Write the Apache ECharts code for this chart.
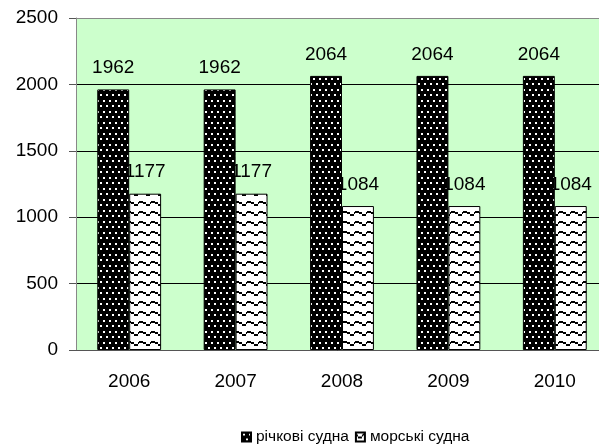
<!DOCTYPE html>
<html>
<head>
<meta charset="utf-8">
<script src="https://cdn.jsdelivr.net/npm/echarts@6/dist/echarts.min.js"></script>
<style>
  html, body { margin: 0; padding: 0; background: #fff; }
  #chart { width: 599px; height: 447px; }
</style>
</head>
<body>
<div id="chart"></div>
<script>
var years = ['2006', '2007', '2008', '2009', '2010'];
var riverShips = [1962, 1962, 2064, 2064, 2064];
var seaShips = [1177, 1177, 1084, 1084, 1084];
var seriesNames = ['річкові судна', 'морські судна'];

// чорне з білими крапками
function dotsPattern() {
    var c = document.createElement('canvas');
    c.width = 6; c.height = 11;
    var g = c.getContext('2d');
    g.fillStyle = '#000';
    g.fillRect(0, 0, 6, 11);
    g.fillStyle = '#fff';
    g.fillRect(1, 1, 2, 2);
    g.fillRect(4, 6, 2, 2);
    return c;
}

// біле з чорними хвилями
function wavePattern() {
    var c = document.createElement('canvas');
    c.width = 12; c.height = 10;
    var g = c.getContext('2d');
    g.fillStyle = '#fff';
    g.fillRect(0, 0, 12, 10);
    g.fillStyle = '#000';
    g.fillRect(0, 2, 2, 2);
    g.fillRect(2, 4, 4, 2);
    g.fillRect(6, 2, 1, 2);
    g.fillRect(7, 1, 4, 2);
    g.fillRect(11, 2, 1, 2);
    return c;
}

var myChart = echarts.init(document.getElementById('chart'), null, {renderer: 'canvas'});
var font = 'Liberation Sans, Arial, sans-serif';

var option = {
    animation: false,
    backgroundColor: '#fff',
    textStyle: {fontFamily: font},
    grid: {
        left: 76, top: 18, width: 532, bottom: 97,
        outerBoundsMode: 'none',
        containLabel: false,
        show: true, backgroundColor: '#ccffcc', borderWidth: 0
    },
    legend: {
        left: 236, top: 424,
        itemWidth: 9, itemHeight: 9, itemGap: 6,
        icon: 'rect',
        textStyle: {fontSize: 15.5, color: '#000', fontFamily: font},
        data: seriesNames
    },
    xAxis: {
        type: 'category',
        data: years,
        axisLine: {lineStyle: {color: '#555', width: 1}},
        axisTick: {length: 6, lineStyle: {color: '#555'}},
        axisLabel: {color: '#000', fontSize: 19, margin: 22, fontFamily: font}
    },
    yAxis: {
        type: 'value',
        min: 0, max: 2500, interval: 500,
        axisLine: {show: true, lineStyle: {color: '#888'}},
        axisTick: {show: true, length: 7, lineStyle: {color: '#555'}},
        axisLabel: {color: '#000', fontSize: 19, margin: 18, fontFamily: font,
            formatter: function (v) { return String(v); }},
        splitLine: {lineStyle: {color: ['#000', '#000', '#000', '#000', '#000', '#888'], width: 1}}
    },
    series: [
        {
            name: seriesNames[0],
            type: 'bar',
            data: riverShips,
            barWidth: '30%',
            barGap: '0%',
            itemStyle: {
                color: {image: dotsPattern(), repeat: 'repeat'},
                borderColor: '#000', borderWidth: 1
            },
            label: {show: true, position: 'top', distance: 12, color: '#000', fontSize: 19, fontFamily: font}
        },
        {
            name: seriesNames[1],
            type: 'bar',
            data: seaShips,
            barWidth: '30%',
            itemStyle: {
                color: {image: wavePattern(), repeat: 'repeat'},
                borderColor: '#000', borderWidth: 1
            },
            label: {show: true, position: 'top', distance: 12, color: '#000', fontSize: 19, fontFamily: font}
        }
    ]
};
myChart.setOption(option);
</script>
</body>
</html>
